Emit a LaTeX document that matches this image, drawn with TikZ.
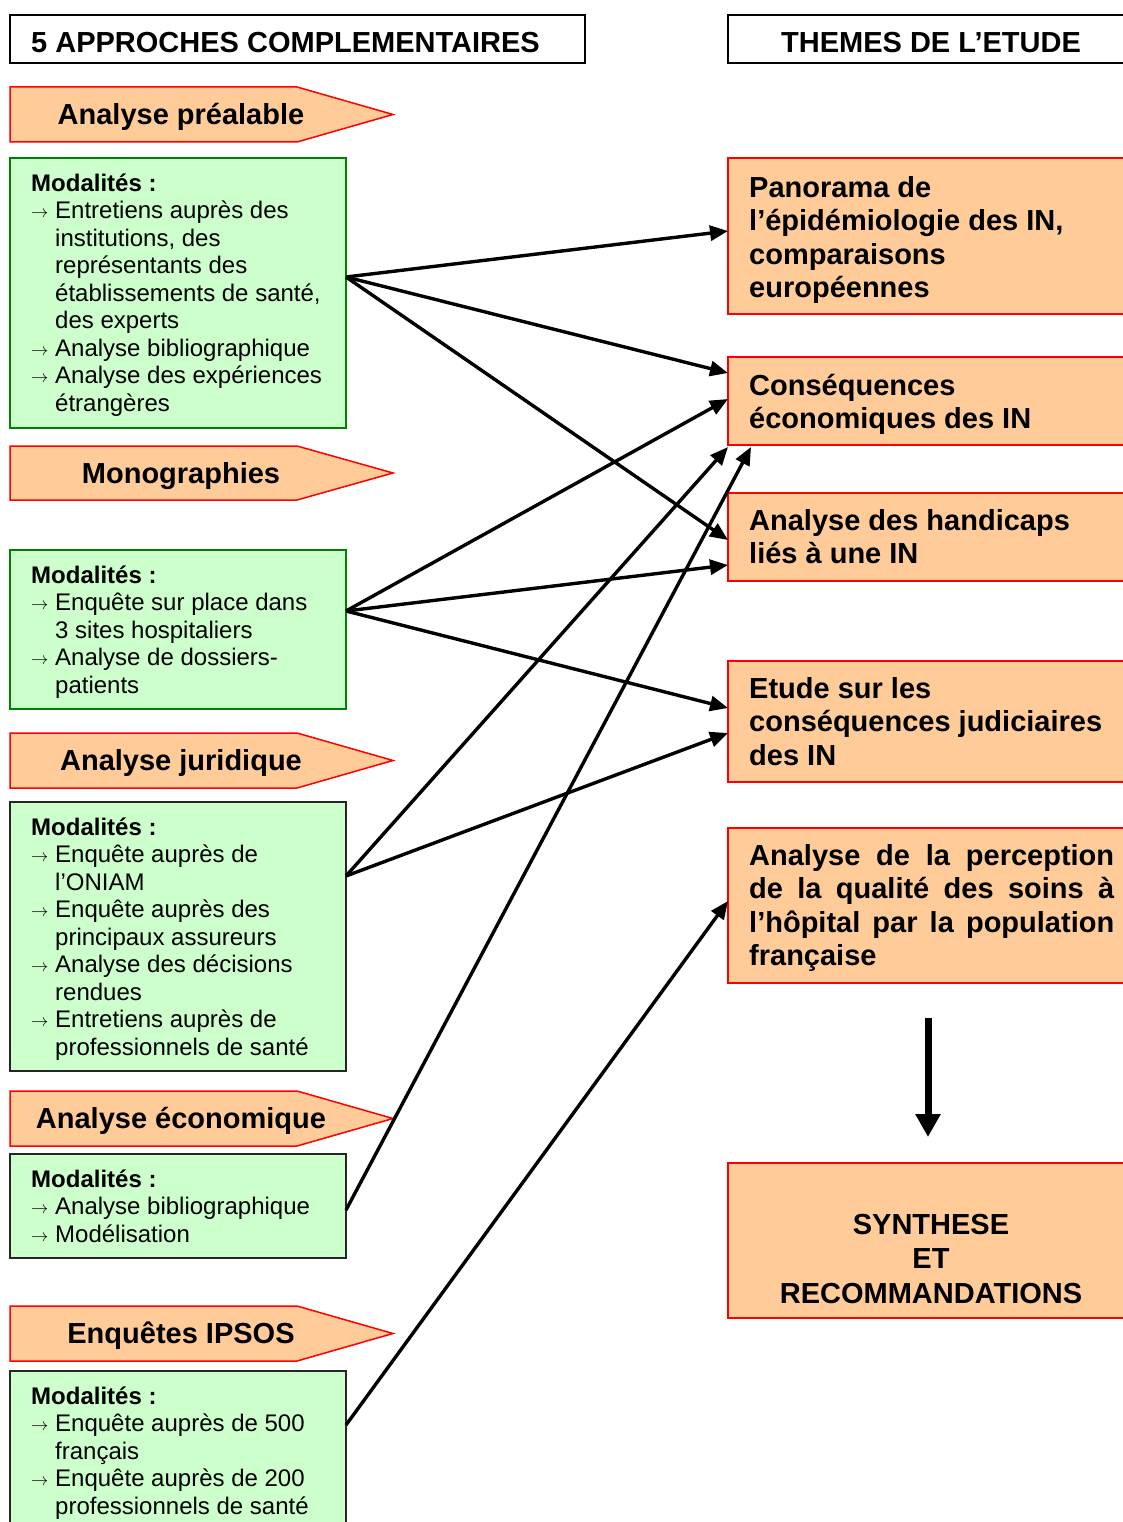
\documentclass[tikz,border=0pt]{standalone}
\usepackage{fontspec}
\setmainfont{Liberation Sans}
\usetikzlibrary{arrows.meta}
\definecolor{peach}{HTML}{FFCC99}
\definecolor{mint}{HTML}{CCFFCC}
\definecolor{dgreen}{HTML}{008000}
\newcommand\arr{\makebox[24pt][l]{\raisebox{1pt}{\fontsize{19}{19}\selectfont$\rightarrow$}}}
\newcommand\ind{\hspace*{24pt}}
\newcommand\fixskip{\lineskiplimit=-100pt\relax}
\newcommand\gfont{\fontsize{24}{27.5}\selectfont\fixskip}
\newcommand\ofont{\bfseries\fontsize{29}{33.4}\selectfont\fixskip}
\newcommand\sfont{\bfseries\fontsize{29}{34.5}\selectfont\fixskip}
\newcommand\approche[4]{%
  \draw[pent] (10,#2) -- (297,#2) -- (393,{(#2+#3)/2}) -- (297,#3) -- (10,#3) -- cycle;
  \node[pentxt] (#1) at (181,{(#2+#3)/2+10}) {#4};}
\begin{document}
\begin{tikzpicture}[x=1pt,y=-1pt,
  gbox/.style={draw=dgreen, fill=mint, line width=1.8pt, anchor=north west, inner sep=0pt, outer sep=0pt},
  kbox/.style={gbox, draw=black!85},
  obox/.style={draw=red, fill=peach, line width=1.8pt, anchor=north west, inner sep=0pt, outer sep=0pt},
  tbox/.style={draw=black, line width=1.8pt, anchor=north west, inner sep=0pt, outer sep=0pt},
  pent/.style={draw=red, fill=peach, line width=1.5pt, line join=miter},
  pentxt/.style={anchor=base, inner sep=0pt, font=\bfseries\fontsize{29}{33}\selectfont},
  gtxt/.style={anchor=north west, inner sep=0pt, align=left, font=\gfont},
  otxt/.style={anchor=north west, inner sep=0pt, align=left, font=\ofont},
  conn/.style={line width=3.4pt, -{Triangle[length=18pt,width=15pt]}},
  bigarrow/.style={line width=7pt, -{Triangle[length=23pt,width=24pt]}}]
\useasboundingbox (0,0) rectangle (1123,1522);
\fill[white] (0,0) rectangle (1123,1522);
\clip (0,0) rectangle (1123,1522);

% titles
\node[tbox, minimum width=575pt, minimum height=48pt] (tleft) at (10,15) {};
\node[anchor=base west, inner sep=0pt, font=\bfseries\fontsize{29}{33}\selectfont] (tlefttxt) at (31,52.5) {5 APPROCHES COMPLEMENTAIRES};
\node[tbox, minimum width=410pt, minimum height=48pt] (tright) at (728,15) {};
\node[anchor=base, inner sep=0pt, font=\bfseries\fontsize{29}{33}\selectfont] (trighttxt) at (931,52.5) {THEMES DE L’ETUDE};

% left column
\approche{p1}{87}{142}{Analyse préalable}
\node[gbox, minimum width=336pt, minimum height=270pt] (b1) at (10,158) {};
\node[gtxt] (t1) at (31,167) {\rule{0pt}{24pt}\textbf{Modalités :}\\
\arr Entretiens auprès des\\
\ind institutions, des\\
\ind représentants des\\
\ind établissements de santé,\\
\ind des experts\\
\arr Analyse bibliographique\\
\arr Analyse des expériences\\
\ind étrangères};

\approche{p2}{446}{500}{Monographies}
\node[gbox, minimum width=336pt, minimum height=159pt] (b2) at (10,550) {};
\node[gtxt] (t2) at (31,559) {\rule{0pt}{24pt}\textbf{Modalités :}\\
\arr Enquête sur place dans\\
\ind 3 sites hospitaliers\\
\arr Analyse de dossiers-\\
\ind patients};

\approche{p3}{733}{788}{Analyse juridique}
\node[kbox, minimum width=336pt, minimum height=269pt] (b3) at (10,802) {};
\node[gtxt] (t3) at (31,811) {\rule{0pt}{24pt}\textbf{Modalités :}\\
\arr Enquête auprès de\\
\ind l’ONIAM\\
\arr Enquête auprès des\\
\ind principaux assureurs\\
\arr Analyse des décisions\\
\ind rendues\\
\arr Entretiens auprès de\\
\ind professionnels de santé};

\approche{p4}{1091}{1146}{Analyse économique}
\node[kbox, minimum width=336pt, minimum height=104pt] (b4) at (10,1154) {};
\node[gtxt] (t4) at (31,1163) {\rule{0pt}{24pt}\textbf{Modalités :}\\
\arr Analyse bibliographique\\
\arr Modélisation};

\approche{p5}{1306}{1361}{Enquêtes IPSOS}
\node[kbox, minimum width=336pt, minimum height=170pt] (b5) at (10,1371) {};
\node[gtxt] (t5) at (31,1380) {\rule{0pt}{24pt}\textbf{Modalités :}\\
\arr Enquête auprès de 500\\
\ind français\\
\arr Enquête auprès de 200\\
\ind professionnels de santé};

% right column
\node[obox, minimum width=410pt, minimum height=156pt] (r1) at (728,158) {};
\node[otxt] (u1) at (749,168) {\rule{0pt}{29pt}Panorama de\\l’épidémiologie des IN,\\comparaisons\\européennes};
\node[obox, minimum width=410pt, minimum height=88pt] (r2) at (728,357) {};
\node[otxt] (u2) at (749,366) {\rule{0pt}{29pt}Conséquences\\économiques des IN};
\node[obox, minimum width=410pt, minimum height=88pt] (r3) at (728,493) {};
\node[otxt] (u3) at (749,501) {\rule{0pt}{29pt}Analyse des handicaps\\liés à une IN};
\node[obox, minimum width=410pt, minimum height=121pt] (r4) at (728,661) {};
\node[otxt] (u4) at (749,669) {\rule{0pt}{29pt}Etude sur les\\conséquences judiciaires\\des IN};
\node[obox, minimum width=410pt, minimum height=155pt] (r5) at (728,828) {};
\node[otxt] (u5) at (749,836) {\rule{0pt}{29pt}\makebox[365pt][s]{Analyse de la perception}\\
\makebox[365pt][s]{de la qualité des soins à}\\
\makebox[365pt][s]{l’hôpital par la population}\\
française};
\node[obox, minimum width=410pt, minimum height=155pt] (r6) at (728,1163) {};
\node[anchor=north, inner sep=0pt, align=center, font=\sfont] (u6) at (931,1205) {\rule{0pt}{29pt}SYNTHESE\\ET\\RECOMMANDATIONS};

% connector end points
\coordinate (s1) at (346,277);
\coordinate (s2) at (346,611);
\coordinate (s3) at (346,876);
\coordinate (s4) at (346,1210);
\coordinate (s5) at (346,1425);
\coordinate (e1) at (728,231);
\coordinate (e2a) at (728,373);
\coordinate (e2b) at (728,399);
\coordinate (e2c) at (728,447);
\coordinate (e2d) at (751,447);
\coordinate (e3a) at (728,540);
\coordinate (e3b) at (728,565);
\coordinate (e4a) at (728,708);
\coordinate (e4b) at (728,733);
\coordinate (e5) at (728,901);
\coordinate (dstart) at (928,1018);
\coordinate (dend) at (928,1137);

\draw[conn] (s1) -- (e1);
\draw[conn] (s1) -- (e2a);
\draw[conn] (s1) -- (e3a);
\draw[conn] (s2) -- (e2b);
\draw[conn] (s2) -- (e3b);
\draw[conn] (s2) -- (e4a);
\draw[conn] (s3) -- (e2c);
\draw[conn] (s3) -- (e4b);
\draw[conn] (s4) -- (e2d);
\draw[conn] (s5) -- (e5);
\draw[bigarrow] (dstart) -- (dend);
\end{tikzpicture}
\end{document}
